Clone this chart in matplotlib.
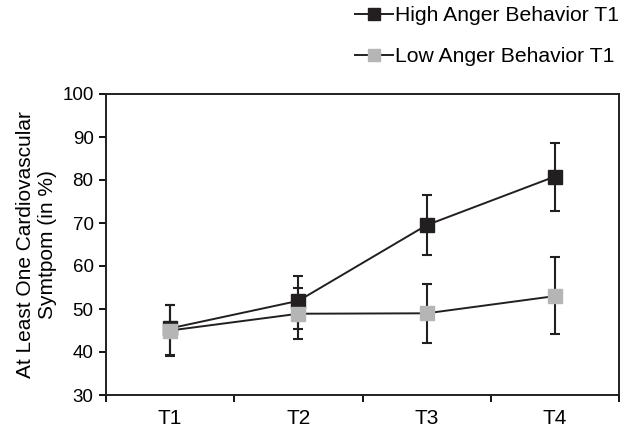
import matplotlib.pyplot as plt
from matplotlib.lines import Line2D
import numpy as np

plt.rcParams['font.family'] = ['Liberation Sans', 'DejaVu Sans']

# data
times = ['T1', 'T2', 'T3', 'T4']
high_mean = [45.5, 51.9, 69.5, 80.8]
high_lo = [39.1, 45.3, 62.6, 72.9]
high_hi = [50.9, 57.7, 76.5, 88.5]
low_mean = [45.0, 48.9, 49.0, 53.0]
low_lo = [39.3, 43.0, 42.2, 44.1]
low_hi = [51.0, 55.0, 55.8, 62.1]
labels = ['High Anger Behavior T1', 'Low Anger Behavior T1']
dark = '#231f20'
grey = '#b5b5b5'

x = np.arange(len(times))

fig = plt.figure(figsize=(6.21, 4.33), dpi=100)
ax = fig.add_axes([106/621, 38/433, 513/621, 301/433])

def yerr(m, lo, hi):
    m = np.array(m)
    return [m - np.array(lo), np.array(hi) - m]

ax.errorbar(x, high_mean, yerr=yerr(high_mean, high_lo, high_hi), color=dark,
            marker='s', markersize=10, markerfacecolor=dark, markeredgecolor=dark,
            lw=1.4, elinewidth=1.5, capsize=3.8, capthick=1.5, zorder=2)
ax.errorbar(x, low_mean, yerr=yerr(low_mean, low_lo, low_hi), color=dark,
            marker='s', markersize=10, markerfacecolor=grey, markeredgecolor=grey,
            lw=1.4, elinewidth=1.5, capsize=3.8, capthick=1.5, zorder=3)

ax.set_xlim(-0.5, 3.5)
ax.set_ylim(30, 100)
ax.set_yticks(np.arange(30, 101, 10))
ax.set_xticks(x)
ax.set_xticklabels(times, fontsize=15)
ax.set_xticks(np.arange(-0.5, 3.6, 1), minor=True)
ax.tick_params(axis='x', which='major', length=0, pad=10)
ax.tick_params(axis='x', which='minor', length=5, width=1.3, direction='out')
ax.tick_params(axis='y', labelsize=13.5, length=5, width=1.3, direction='out', pad=4)
for s in ax.spines.values():
    s.set_linewidth(1.4)
    s.set_color(dark)

ax.set_ylabel('At Least One Cardiovascular\nSymtpom (in %)', fontsize=15, labelpad=4,
              linespacing=1.15)

handles = [Line2D([], [], color=dark, lw=1.4, marker='s', markersize=8,
                  markerfacecolor=dark, markeredgecolor=dark),
           Line2D([], [], color=dark, lw=1.4, marker='s', markersize=8,
                  markerfacecolor=grey, markeredgecolor=grey)]
fig.legend(handles, labels, loc='upper right', bbox_to_anchor=(1.028, 1.03),
           frameon=False, fontsize=15.2, labelspacing=1.05, handlelength=1.8,
           handletextpad=0.1)

fig.savefig('out.png', dpi=100)
